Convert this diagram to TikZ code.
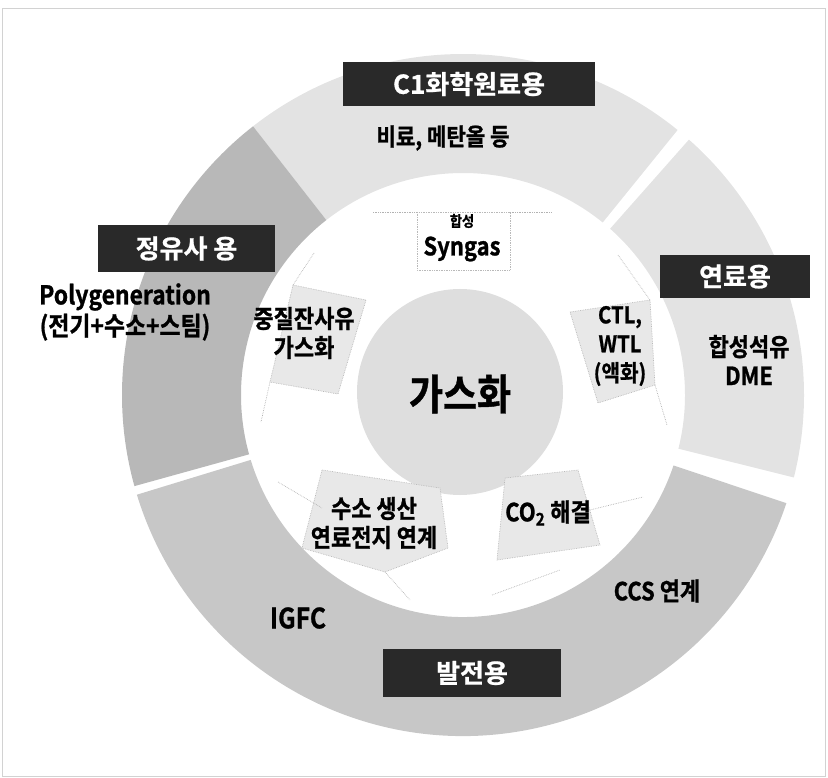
\documentclass[tikz,border=0pt]{standalone}
\usepackage{fontspec}
\newfontfamily\kr[FakeStretch=0.88,FakeBold=1,BoldFont={Noto Sans CJK KR Bold}]{Noto Sans CJK KR}
\newfontfamily\krw[FakeBold=0.8,BoldFont={Noto Sans CJK KR Bold}]{Noto Sans CJK KR}
\usetikzlibrary{calc}
\definecolor{segLight}{gray}{0.89}
\definecolor{segLeft}{gray}{0.72}
\definecolor{segBottom}{gray}{0.78}
\definecolor{coreFill}{gray}{0.87}
\definecolor{tagbg}{gray}{0.16}
\definecolor{pieceFill}{gray}{0.91}
\newcommand\ringpart[4]{%
  \fill[#1] ($(O)+(-#2:341)$) arc[start angle=-#2,end angle=-#3,radius=341]
    -- ($(O)+(-#3:222)$) arc[start angle=-#3,end angle=-#2,radius=222] -- cycle;
  \path ($(O)+(-#4:280)$) coordinate (seg#4);}
\begin{document}
\begin{tikzpicture}[x=1pt,y=-1pt,
  lbl/.style={font=\kr\bfseries\fontsize{25}{29}\selectfont, inner sep=0pt, align=center, text=black},
  tagbox/.style={fill=tagbg, text=white, font=\krw\bfseries\fontsize{26}{28}\selectfont, inner sep=0pt},
  piece/.style={fill=pieceFill, draw=gray!55, densely dotted, line width=0.7pt},
  thin/.style={draw=gray!60, densely dotted, line width=0.7pt}]
\useasboundingbox (0,0) rectangle (828,778);
\draw[gray!35, line width=0.6pt] (2,8) rectangle (825,776);
\coordinate (O) at (463,395);
% ring segments
\ringpart{segLight}{51}{128}{90}
\ringpart{segLeft}{128}{195.5}{160}
\ringpart{segBottom}{197}{341.5}{270}
\ringpart{segLight}{346}{408.5}{20}
% core
\node[circle, fill=coreFill, minimum size=206pt, inner sep=0pt] (core) at (460,392) {};
% inner pieces
\draw[piece, fill=white] (417,212) rectangle (510,270);
\coordinate (sgL) at (373,212); \coordinate (sgR) at (552,212);
\coordinate (sgA) at (417,212); \coordinate (sgB) at (510,212);
\draw[thin] (sgL) -- (sgA); \draw[thin] (sgB) -- (sgR);
\draw[piece] (293,285) -- (366,300) -- (338,394) -- (270,382) -- cycle;
\coordinate (hA) at (314,253); \coordinate (hB) at (261,422);
\draw[thin] (hA) -- (293,285); \draw[thin] (270,382) -- (hB);
\draw[piece] (570,312) -- (650,300) -- (655,385) -- (598,403) -- cycle;
\coordinate (cA) at (618,255); \coordinate (cB) at (667,425);
\draw[thin] (cA) -- (650,300); \draw[thin] (655,385) -- (cB);
\draw[piece] (505,478) -- (578,470) -- (600,545) -- (497,560) -- cycle;
\coordinate (oA) at (643,497); \coordinate (oB) at (492,595); \coordinate (oC) at (560,570);
\draw[thin] (590,510) -- (oA); \draw[thin] (oB) -- (oC);
\draw[piece] (322,470) -- (440,488) -- (448,548) -- (385,572) -- (302,548) -- cycle;
\coordinate (hyA) at (278,482); \coordinate (hyB) at (410,600);
\draw[thin] (hyA) -- (322,508); \draw[thin] (385,572) -- (hyB);
% tags
\node[tagbox, minimum width=252pt, minimum height=44pt] (tC1) at (469,84) {C1화학원료용};
\node[tagbox, minimum width=177pt, minimum height=47pt] (tRef) at (186.5,248.5) {정유사 용};
\node[tagbox, minimum width=150pt, minimum height=43pt] (tFuel) at (735,276.5) {연료용};
\node[tagbox, minimum width=178pt, minimum height=48pt] (tPow) at (472,673) {발전용};
% labels
\node[lbl, font=\kr\bfseries\fontsize{24}{28}\selectfont] (fert) at (443,138) {비료, 메탄올 등};
\node[lbl, font=\kr\bfseries\fontsize{26}{31}\selectfont] (poly) at (125,312) {Polygeneration\\(전기+수소+스팀)};
\node[lbl] (heavy) at (304,333) {중질잔사유\\가스화};
\node[lbl, font=\kr\bfseries\fontsize{15}{18}\selectfont] (syn1) at (462,221) {합성};
\node[lbl] (syn2) at (462,249) {Syngas};
\node[lbl, font=\kr\bfseries\fontsize{23}{29}\selectfont] (ctl) at (620,346) {CTL,\\WTL\\(액화)};
\node[lbl, font=\kr\bfseries\fontsize{42}{46}\selectfont] (gas) at (460,394) {가스화};
\node[lbl] (synf) at (749,360) {합성석유\\DME};
\node[lbl] (co2) at (548,513) {CO\textsubscript{2} 해결};
\node[lbl] (hyd) at (374,523) {수소 생산\\연료전지 연계};
\node[lbl] (ccs) at (657,591) {CCS 연계};
\node[lbl, font=\kr\bfseries\fontsize{28}{30}\selectfont] (igfc) at (298,618) {IGFC};
\end{tikzpicture}
\end{document}
